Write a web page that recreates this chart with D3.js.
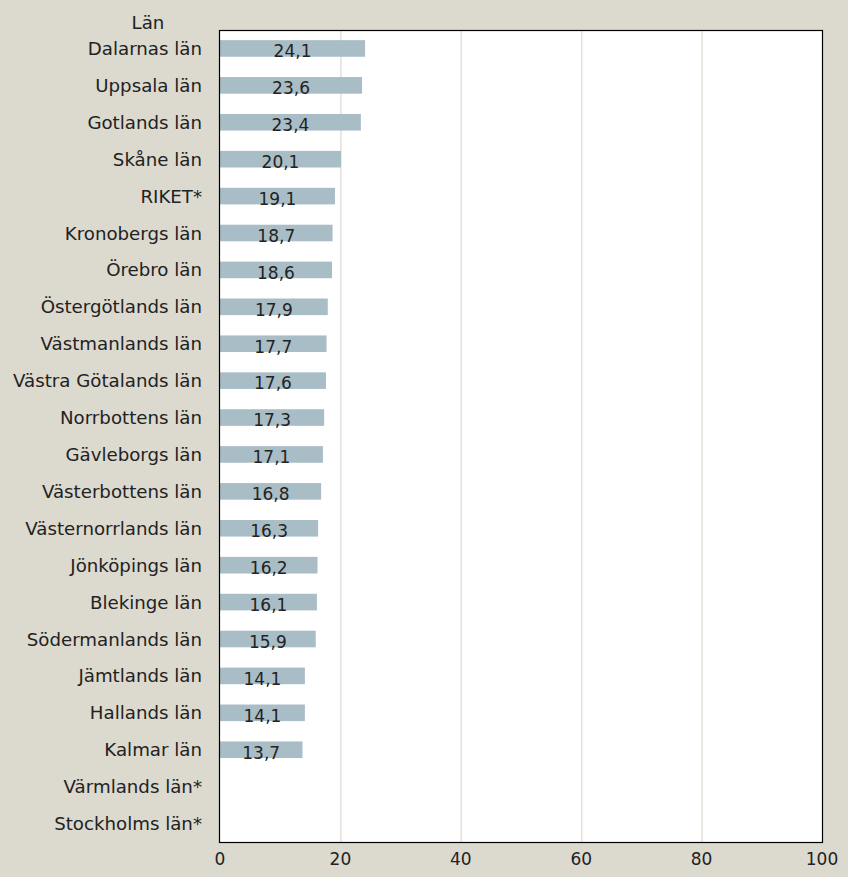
<!DOCTYPE html>
<html>
<head>
<meta charset="utf-8">
<script src="https://cdn.jsdelivr.net/npm/d3@7"></script>
<style>
  body { margin: 0; background: #dcd9cf; }
  text { font-family: "DejaVu Sans", sans-serif; fill: #222; }
</style>
</head>
<body>
<div id="chart"></div>
<script>
// data
var categories = ["Dalarnas län", "Uppsala län", "Gotlands län", "Skåne län", "RIKET*",
  "Kronobergs län", "Örebro län", "Östergötlands län", "Västmanlands län",
  "Västra Götalands län", "Norrbottens län", "Gävleborgs län", "Västerbottens län",
  "Västernorrlands län", "Jönköpings län", "Blekinge län", "Södermanlands län",
  "Jämtlands län", "Hallands län", "Kalmar län", "Värmlands län*", "Stockholms län*"];
var values = [24.1, 23.6, 23.4, 20.1, 19.1, 18.7, 18.6, 17.9, 17.7, 17.6, 17.3, 17.1,
  16.8, 16.3, 16.2, 16.1, 15.9, 14.1, 14.1, 13.7, null, null];
var xTicks = [0, 20, 40, 60, 80, 100];
var axisTitle = "Län";

var width = 848, height = 877;
var margin = {top: 30, right: 26, bottom: 35, left: 220};

var svg = d3.select("#chart").append("svg")
    .attr("width", width)
    .attr("height", height);

var x = d3.scaleLinear()
    .domain([0, 100])
    .range([margin.left, width - margin.right]);

var y = d3.scaleBand()
    .domain(categories)
    .range([margin.top, height - margin.bottom])
    .paddingInner(0.55)
    .paddingOuter(0.275);

var comma = function(v) { return d3.format(".1f")(v).replace(".", ","); };

// plot area
svg.append("rect")
    .attr("x", x(0))
    .attr("y", margin.top)
    .attr("width", x(100) - x(0))
    .attr("height", height - margin.bottom - margin.top)
    .style("fill", "#fff");

// gridlines
svg.append("g").selectAll("line")
    .data(xTicks.slice(1, -1))
    .enter().append("line")
    .attr("x1", function(d) { return x(d) + 0.5; })
    .attr("x2", function(d) { return x(d) + 0.5; })
    .attr("y1", margin.top)
    .attr("y2", height - margin.bottom)
    .style("stroke", "#e3e0d8")
    .style("stroke-width", 1.5);

var rows = categories.map(function(c, i) { return {name: c, value: values[i]}; });

svg.append("g").selectAll("rect")
    .data(rows.filter(function(d) { return d.value != null; }))
    .enter().append("rect")
    .attr("x", x(0))
    .attr("y", function(d) { return y(d.name); })
    .attr("width", function(d) { return x(d.value) - x(0); })
    .attr("height", y.bandwidth())
    .style("fill", "#a9bdc7");

svg.append("g").selectAll("text")
    .data(rows.filter(function(d) { return d.value != null; }))
    .enter().append("text")
    .attr("x", function(d) { return (x(0) + x(d.value)) / 2; })
    .attr("y", function(d) { return y(d.name) + y.bandwidth() + 0.5; })
    .attr("text-anchor", "middle")
    .style("font-size", "17px")
    .text(function(d) { return comma(d.value); });

// frame
svg.append("rect")
    .attr("x", x(0) - 0.5)
    .attr("y", margin.top + 0.5)
    .attr("width", x(100) - x(0) + 1)
    .attr("height", height - margin.bottom - margin.top)
    .style("fill", "none")
    .style("stroke", "#000")
    .style("stroke-width", 1.2);

// category labels
svg.append("g").selectAll("text")
    .data(categories)
    .enter().append("text")
    .attr("x", margin.left - 18)
    .attr("y", function(d) { return y(d) + y.bandwidth() / 2; })
    .attr("dy", "0.36em")
    .attr("text-anchor", "end")
    .style("font-size", "18.2px")
    .text(function(d) { return d; });

svg.append("text")
    .attr("x", 148)
    .attr("y", 22)
    .attr("dy", "0.36em")
    .attr("text-anchor", "middle")
    .style("font-size", "18.2px")
    .text(axisTitle);

// x tick labels
svg.append("g").selectAll("text")
    .data(xTicks)
    .enter().append("text")
    .attr("x", function(d) { return x(d); })
    .attr("y", height - margin.bottom + 17)
    .attr("dy", "0.36em")
    .attr("text-anchor", "middle")
    .style("font-size", "17px")
    .text(function(d) { return d; });
</script>
</body>
</html>
